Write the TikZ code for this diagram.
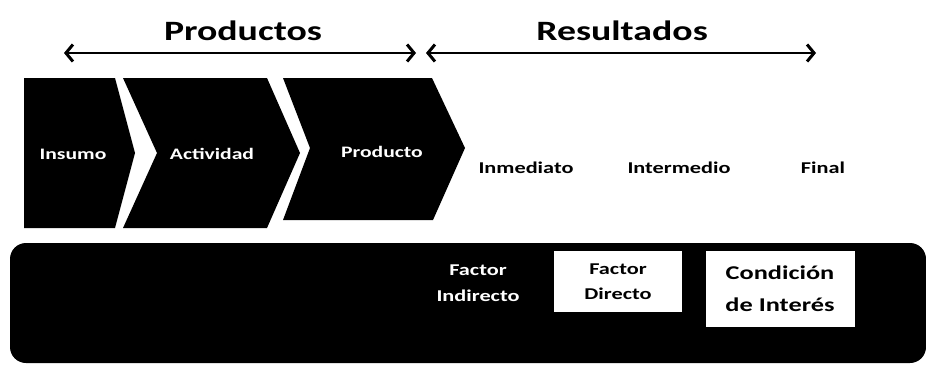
\documentclass[tikz,border=0pt]{standalone}
\usepackage{fontspec}
\setmainfont{Carlito}[FakeStretch=1.35]
\usetikzlibrary{arrows.meta}
\begin{document}
\begin{tikzpicture}[x=1pt,y=-1pt,
	title/.style={anchor=base,font=\fontsize{28}{30}\selectfont\bfseries},
	stage/.style={anchor=base,text=white,font=\fontsize{16}{19}\selectfont\bfseries},
	result/.style={anchor=base,text=black,font=\fontsize{16.5}{19}\selectfont\bfseries},
	span/.style={line width=2.2pt,{Straight Barb[length=7pt,width=17pt,line width=3pt]}-{Straight Barb[length=7pt,width=17pt,line width=3pt]}}]
	\useasboundingbox (0,0) rectangle (926,365);
		\fill[black](24,78)--(115,78)--(135,153)--(115,228)--(24,228)--cycle;
		\fill[black](123,78)--(267,78)--(300,153)--(267,228)--(123,228)--(157,153)--cycle;
		\fill[black](283,78)--(432,78)--(465,148)--(433,220)--(283,220)--(310,148)--cycle;
		\fill[black,rounded corners=16pt](10,243) rectangle (926,363);
		\node[title](prod) at (243,40){Productos};
		\node[title](res) at (622,40){Resultados};
		\coordinate (pl) at (64,53);
		\coordinate (pr) at (416,53);
		\coordinate (rl) at (426,53);
		\coordinate (rr) at (816,53);
		\draw[span](pl)--(pr);
		\draw[span](rl)--(rr);
		\node[stage](ins) at (73,159){Insumo};
		\node[stage](act) at (212,159){Actividad};
		\node[stage](pro) at (382,157){Producto};
		\node[result](inm) at (526,173){Inmediato};
		\node[result](int) at (679,173){Intermedio};
		\node[result](fin) at (823,173){Final};
		\node[text=white,align=center,font=\fontsize{16.5}{26}\selectfont\bfseries](fi) at (478,283){Factor\\Indirecto};
		\node[fill=white,text=black,align=center,minimum width=128pt,minimum height=61pt,font=\fontsize{16.5}{25}\selectfont\bfseries](fd) at (618,281.5){Factor\\Directo};
		\node[fill=white,text=black,align=center,minimum width=149pt,minimum height=76pt,font=\fontsize{19.5}{32}\selectfont\bfseries](ci) at (780,289){Condición\\de Interés};
	\end{tikzpicture}
\end{document}
